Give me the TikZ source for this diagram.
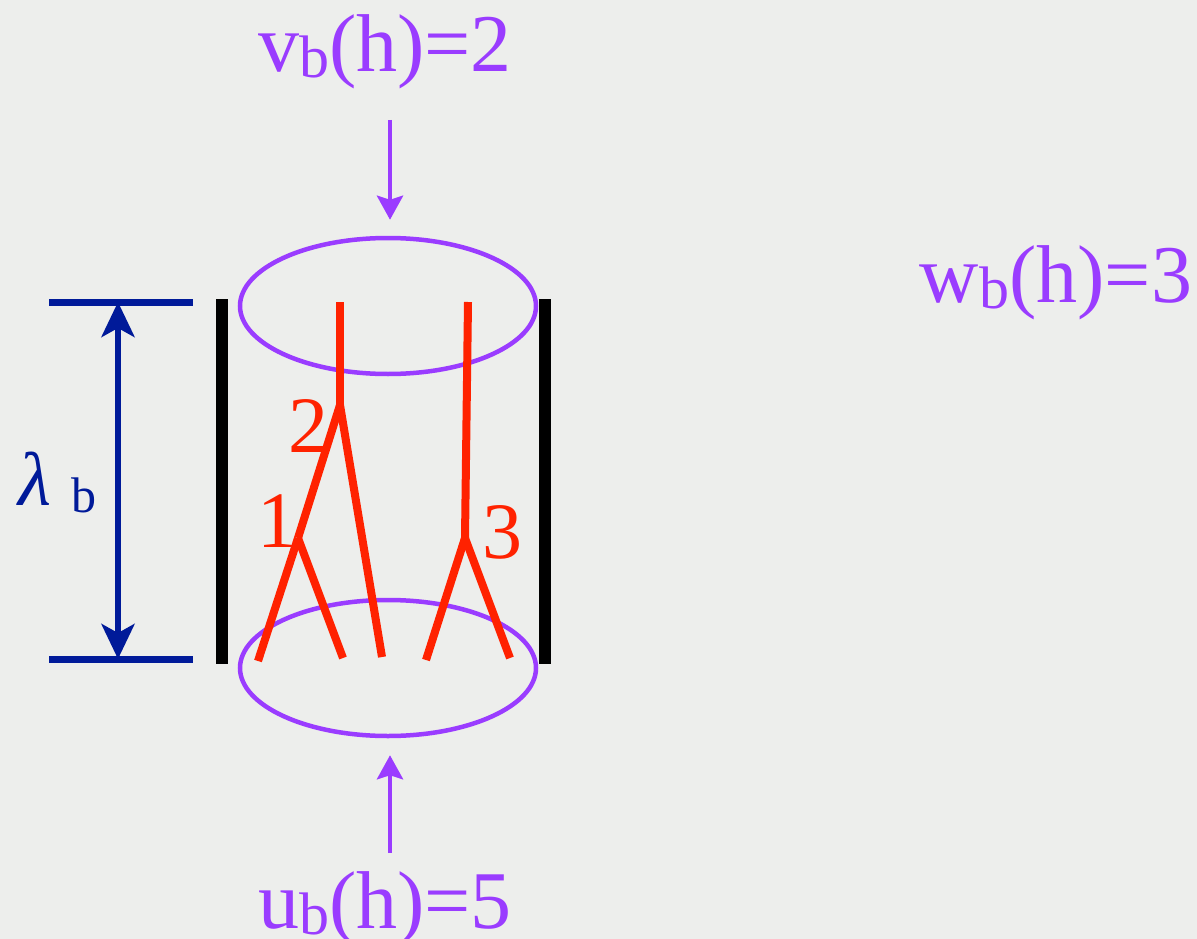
\documentclass[tikz,border=0pt]{standalone}
\usepackage{fontspec}
\setmainfont{Liberation Serif}
\usepackage{tikz}
\usetikzlibrary{arrows.meta,shapes.geometric}

\definecolor{bgray}{HTML}{EDEEEC}
\definecolor{ppurple}{HTML}{9A3CFF}
\definecolor{tred}{HTML}{FF2200}
\definecolor{dnavy}{HTML}{001A99}

\newcommand{\subb}{\raisebox{-6pt}{\fontsize{60}{60}\selectfont b}}

\begin{document}
\begin{tikzpicture}[x=1pt,y=-1pt,
  plabel/.style={text=ppurple,font=\fontsize{82}{82}\selectfont,inner sep=0pt,anchor=base},
  parrow/.style={draw=ppurple,line width=4.5pt,-{Stealth[length=24pt,width=26pt,inset=4pt]}},
  cupell/.style={draw=ppurple,line width=4.5pt,ellipse,minimum width=296pt,minimum height=136pt,inner sep=0pt},
  wall/.style={line width=12pt,black},
  dimline/.style={line width=7pt,dnavy},
  branch/.style={line width=8pt,tred},
  tlabel/.style={text=tred,font=\fontsize{80}{80}\selectfont,inner sep=0pt,anchor=base}]

\fill[bgray] (0,0) rectangle (1197,939);
\useasboundingbox (0,0) rectangle (1197,939);

% labels
\node[plabel] (vlabel) at (385,72) {v\subb(h)=2};
\node[plabel] (wlabel) at (1056,302) {w\subb(h)=3};
\node[plabel] (ulabel) at (385,928) {u\subb(h)=5};

% top and bottom of the cylinder
\node[cupell] (topell) at (388,306) {};
\node[cupell] (botell) at (388,668) {};

\coordinate (vtail) at (390,120);
\coordinate (utail) at (390,853);
\draw[parrow,shorten >=16pt] (vtail) -- (vtail |- topell.north);
\draw[parrow,shorten >=17pt] (utail) -- (utail |- botell.south);

% walls
\draw[wall] (222,299) -- (222,664);
\draw[wall] (545,299) -- (545,664);

% height lambda_b
\coordinate (dtop) at (118,302);
\coordinate (dbot) at (118,659);
\draw[dimline] (49,302) -- (193,302);
\draw[dimline] (49,659) -- (193,659);
\draw[line width=6pt,dnavy,{Stealth[length=35pt,width=33pt,inset=9pt]}-{Stealth[length=35pt,width=33pt,inset=9pt]}] (dtop) -- (dbot);
\node[text=dnavy,anchor=base west,inner sep=0pt] (lamlabel) at (18,505)
  {\fontsize{76}{76}\selectfont\itshape λ\hspace{20pt}\raisebox{-7pt}{\upshape\fontsize{50}{50}\selectfont b}};

% the tree
\coordinate (t2) at (340,302);
\coordinate (n2) at (340,405);
\coordinate (n1) at (298,538);
\coordinate (e1) at (258,661);
\coordinate (e2) at (343,658);
\coordinate (e3) at (382,657);
\coordinate (t3) at (468,302);
\coordinate (n3) at (465,538);
\coordinate (e4) at (426,660);
\coordinate (e5) at (510,658);

\foreach \a/\b in {t2/n2,n2/n1,n2/e3,n1/e1,n1/e2,t3/n3,n3/e4,n3/e5}{
  \draw[branch] (\a) -- (\b);
}

\node[tlabel] (l2) at (308,452) {2};
\node[tlabel] (l1) at (277,547) {1};
\node[tlabel] (l3) at (502,558) {3};

\end{tikzpicture}
\end{document}
